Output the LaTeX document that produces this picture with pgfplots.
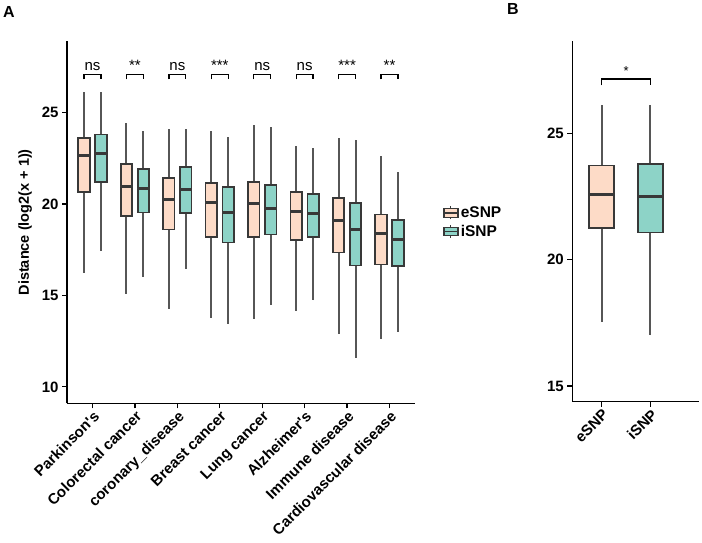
\documentclass[border=0pt]{standalone}
\usepackage{fontspec}
\setmainfont{Liberation Sans}
\usepackage{pgfplots}
\pgfplotsset{compat=1.18}
\usepgfplotslibrary{statistics}
\definecolor{esnp}{HTML}{FDDBC7}
\definecolor{isnp}{HTML}{8DD3C7}
\definecolor{edge}{HTML}{383838}
\newcommand{\bx}[8]{%
  \addplot[draw=edge, fill=#1, line width=1.7pt, forget plot,
    boxplot prepared={draw direction=y, draw position=#2, lower whisker=#3, lower quartile=#4,
      median=#5, upper quartile=#6, upper whisker=#7, box extend=#8, whisker extend=0}]
    coordinates {};}
\newcommand{\tickfont}{\fontsize{15}{15}\selectfont\bfseries}
\pgfplotsset{
  common/.style={
    scale only axis, clip=false,
    axis x line*=bottom, axis y line*=left,
    axis line style={line width=1.3pt, black, -},
    tick align=outside, major tick length=5pt,
    major tick style={line width=1.2pt, black},
    xtick pos=bottom, ytick pos=left, minor tick num=0,
    /pgf/number format/assume math mode=true,
    ticklabel style={font=\tickfont, text=black},
    x tick label style={rotate=45, anchor=north east, inner sep=1pt},
    boxplot/draw direction=y,
    boxplot/every box/.style={line width=1.7pt, draw=edge},
    boxplot/every median/.style={line width=3pt, draw=edge},
    boxplot/every whisker/.style={line width=2pt, draw=edge!85},
  }
}
\begin{document}
\begin{tikzpicture}
\useasboundingbox (0pt,0pt) rectangle (702pt,543pt);
\node[anchor=north west, inner sep=0pt, font=\fontsize{16}{16}\selectfont\bfseries] at (3pt,537pt) {A};
\node[anchor=north west, inner sep=0pt, font=\fontsize{16}{16}\selectfont\bfseries] at (507pt,540pt) {B};
% Panel A
\begin{axis}[common,
  at={(67pt,139.7pt)}, anchor=south west,
  width=348pt, height=362pt,
  xmin=0.4, xmax=8.6, ymin=9.1, ymax=28.9,
  xtick={1,2,3,4,5,6,7,8},
  xticklabels={Parkinson\textquotesingle s, Colorectal cancer, coronary\_disease, Breast cancer, Lung cancer, Alzheimer\textquotesingle s, Immune disease, Cardiovascular disease},
  ytick={10,15,20,25},
  ylabel={Distance (log2(x + 1))},
  ylabel style={font=\fontsize{14.5}{14.5}\selectfont\bfseries, at={(axis description cs:-0.12,0.5)}, anchor=center},
  legend style={at={(1.08,0.5)}, anchor=west, draw=none, fill=none,
    font=\fontsize{15.5}{15.5}\selectfont\bfseries, row sep=2pt, inner sep=0pt,
    legend cell align=left},
]
\addlegendimage{legend image code/.code={
  \draw[draw=edge, line width=1pt] (7pt,-6.5pt)--(7pt,6.5pt);
  \draw[draw=edge, fill=esnp, line width=1.2pt] (0pt,-4.3pt) rectangle (14pt,4.3pt);
  \draw[draw=edge, line width=1.8pt] (0pt,0pt)--(14pt,0pt);}}
\addlegendentry{eSNP}
\addlegendimage{legend image code/.code={
  \draw[draw=edge, line width=1pt] (7pt,-6.5pt)--(7pt,6.5pt);
  \draw[draw=edge, fill=isnp, line width=1.2pt] (0pt,-4.3pt) rectangle (14pt,4.3pt);
  \draw[draw=edge, line width=1.8pt] (0pt,0pt)--(14pt,0pt);}}
\addlegendentry{iSNP}
\bx{esnp}{0.8}{16.24}{20.64}{22.65}{23.62}{26.11}{0.27}
\bx{isnp}{1.2}{17.42}{21.22}{22.78}{23.80}{26.11}{0.27}
\bx{esnp}{1.8}{15.09}{19.33}{20.98}{22.20}{24.42}{0.27}
\bx{isnp}{2.2}{16.02}{19.53}{20.84}{21.91}{23.98}{0.27}
\bx{esnp}{2.8}{14.27}{18.60}{20.24}{21.44}{24.09}{0.27}
\bx{isnp}{3.2}{16.44}{19.51}{20.78}{22.02}{24.09}{0.27}
\bx{esnp}{3.8}{13.75}{18.18}{20.11}{21.16}{23.98}{0.27}
\bx{isnp}{4.2}{13.43}{17.89}{19.51}{20.93}{23.66}{0.27}
\bx{esnp}{4.8}{13.73}{18.20}{20.02}{21.20}{24.31}{0.27}
\bx{isnp}{5.2}{14.47}{18.33}{19.76}{21.04}{24.20}{0.27}
\bx{esnp}{5.8}{14.13}{18.05}{19.58}{20.67}{23.18}{0.27}
\bx{isnp}{6.2}{14.73}{18.18}{19.49}{20.55}{23.04}{0.27}
\bx{esnp}{6.8}{12.89}{17.35}{19.09}{20.34}{23.61}{0.27}
\bx{isnp}{7.2}{11.60}{16.64}{18.60}{20.06}{23.51}{0.27}
\bx{esnp}{7.8}{12.60}{16.69}{18.38}{19.42}{22.60}{0.27}
\bx{isnp}{8.2}{13.00}{16.60}{18.05}{19.11}{21.73}{0.27}
% significance brackets
\addplot[black, line width=1.3pt, forget plot] coordinates {(0.8,26.82)(0.8,27.07)(1.2,27.07)(1.2,26.82)};
\addplot[black, line width=1.3pt, forget plot] coordinates {(1.8,26.82)(1.8,27.07)(2.2,27.07)(2.2,26.82)};
\addplot[black, line width=1.3pt, forget plot] coordinates {(2.8,26.82)(2.8,27.07)(3.2,27.07)(3.2,26.82)};
\addplot[black, line width=1.3pt, forget plot] coordinates {(3.8,26.82)(3.8,27.07)(4.2,27.07)(4.2,26.82)};
\addplot[black, line width=1.3pt, forget plot] coordinates {(4.8,26.82)(4.8,27.07)(5.2,27.07)(5.2,26.82)};
\addplot[black, line width=1.3pt, forget plot] coordinates {(5.8,26.82)(5.8,27.07)(6.2,27.07)(6.2,26.82)};
\addplot[black, line width=1.3pt, forget plot] coordinates {(6.8,26.82)(6.8,27.07)(7.2,27.07)(7.2,26.82)};
\addplot[black, line width=1.3pt, forget plot] coordinates {(7.8,26.82)(7.8,27.07)(8.2,27.07)(8.2,26.82)};
\begin{scope}[every node/.style={anchor=base, inner sep=0pt, font=\fontsize{15}{15}\selectfont}]
\node at (axis cs:1,27.29) {ns};
\node at (axis cs:2,27.29) {**};
\node at (axis cs:3,27.29) {ns};
\node at (axis cs:4,27.29) {***};
\node at (axis cs:5,27.29) {ns};
\node at (axis cs:6,27.29) {ns};
\node at (axis cs:7,27.29) {***};
\node at (axis cs:8,27.29) {**};
\end{scope}
\end{axis}
% Panel B
\begin{axis}[common,
  at={(572.3pt,141.3pt)}, anchor=south west,
  width=127pt, height=360.4pt,
  xmin=0.4, xmax=3.0, ymin=14.38, ymax=28.63,
  xtick={1,2}, xticklabels={eSNP, iSNP},
  ytick={15,20,25},
]
\bx{esnp}{1}{17.52}{21.24}{22.56}{23.72}{26.12}{0.51}
\bx{isnp}{2}{17.00}{21.07}{22.50}{23.78}{26.12}{0.51}
\addplot[black, line width=1.3pt, forget plot] coordinates {(1,26.89)(1,27.14)(2,27.14)(2,26.89)};
\node[anchor=base, inner sep=0pt, font=\fontsize{13}{13}\selectfont] at (axis cs:1.5,27.26) {*};
\end{axis}
\end{tikzpicture}
\end{document}
